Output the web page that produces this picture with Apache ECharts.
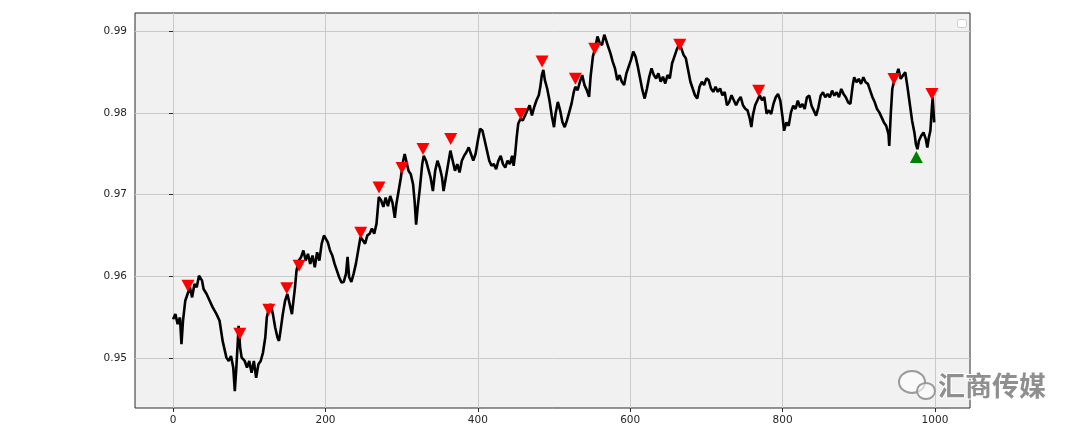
<!DOCTYPE html>
<html>
<head>
<meta charset="utf-8">
<script src="https://cdn.jsdelivr.net/npm/echarts@6/dist/echarts.min.js"></script>
<style>html,body{margin:0;padding:0;background:#fff;}#c{width:1080px;height:436px;}</style>
</head>
<body>
<div id="c"></div>
<script>
const xs = [0,3,6,9,11,13,16,19,22,25,28,31,34,36,38,40,44,48,52,57,61,65,70,73,76,79,81,83,85,86,88,90,94,97,100,103,106,109,112,115,118,121,123,126,128,131,134,137,139,141,144,147,150,153,156,158,160,162,165,168,171,174,177,180,183,186,189,192,195,198,200,203,206,209,212,215,218,221,224,227,229,231,234,237,240,243,246,249,252,255,258,261,264,267,270,273,276,279,282,285,288,291,293,296,299,302,304,306,309,312,315,317,319,321,324,327,329,332,335,338,341,344,347,350,353,355,358,361,364,367,370,373,376,379,382,385,388,391,394,397,400,403,406,409,412,415,418,421,424,427,430,433,436,439,442,445,447,449,451,453,456,459,462,465,468,471,474,477,480,482,484,486,488,491,494,497,500,502,505,508,511,514,517,520,523,526,528,531,534,537,540,543,546,548,551,554,557,560,563,566,568,571,574,577,580,583,586,589,592,595,598,601,604,607,610,613,616,619,622,625,628,631,634,637,640,643,646,649,652,655,658,661,664,667,670,673,676,679,682,685,688,691,694,697,700,703,706,709,712,715,718,721,724,727,730,733,736,739,742,745,748,751,754,757,759,761,764,767,770,773,776,779,782,785,788,791,794,797,800,802,805,808,811,814,817,820,823,826,829,832,835,838,841,844,847,850,853,856,859,862,865,868,871,874,877,880,883,886,889,892,894,897,900,903,906,909,912,915,918,921,924,927,930,933,936,939,940,942,944,947,950,952,955,958,961,964,967,970,973,975,977,979,982,985,988,990,992,994,996,997,999];
const ys = [0.95475,0.95537,0.95414,0.95496,0.95168,0.95455,0.95701,0.95783,0.95865,0.95742,0.95906,0.95865,0.96008,0.96029,0.95947,0.95844,0.95783,0.95701,0.95619,0.95537,0.95455,0.95209,0.95004,0.94963,0.95025,0.94881,0.94594,0.94881,0.95209,0.95393,0.95127,0.95004,0.94963,0.94881,0.94963,0.9482,0.94963,0.94758,0.94922,0.94963,0.95066,0.9525,0.95496,0.95619,0.9566,0.95537,0.95373,0.9525,0.95209,0.95332,0.95537,0.95701,0.95783,0.9566,0.95537,0.95701,0.95865,0.9607,0.96193,0.96234,0.96316,0.96193,0.96275,0.96152,0.96254,0.96111,0.96295,0.96193,0.96398,0.965,0.9652,0.96418,0.96316,0.96254,0.96152,0.9607,0.95988,0.95926,0.95931,0.96033,0.96237,0.95992,0.95931,0.96033,0.96155,0.96318,0.96482,0.96441,0.964,0.96502,0.96522,0.96584,0.96522,0.96645,0.96971,0.96931,0.9685,0.96963,0.9686,0.96984,0.96901,0.96716,0.96881,0.97045,0.9721,0.97416,0.97498,0.97416,0.97292,0.97251,0.97128,0.96922,0.96634,0.9684,0.97086,0.97374,0.97477,0.97416,0.97313,0.9721,0.97045,0.97292,0.97416,0.97333,0.9721,0.97045,0.9721,0.97374,0.97539,0.97416,0.97292,0.97374,0.97272,0.97416,0.97477,0.97519,0.9758,0.97498,0.97416,0.97498,0.97663,0.97807,0.97786,0.97663,0.97539,0.97416,0.97354,0.97374,0.97313,0.97416,0.97477,0.97374,0.97333,0.97416,0.97374,0.97477,0.97354,0.97498,0.97704,0.97868,0.9793,0.97909,0.97971,0.98033,0.98095,0.97971,0.98074,0.98156,0.98218,0.98321,0.98465,0.98527,0.98403,0.983,0.98156,0.97971,0.97827,0.97992,0.98136,0.98033,0.97889,0.97827,0.97909,0.98012,0.98115,0.98259,0.98321,0.9828,0.98383,0.98465,0.98342,0.9828,0.98198,0.98444,0.98691,0.98794,0.98938,0.98856,0.98835,0.98959,0.98979,0.98815,0.98733,0.9863,0.98547,0.98403,0.98465,0.98383,0.98342,0.98486,0.98568,0.9865,0.98753,0.98691,0.98568,0.98424,0.9828,0.98177,0.983,0.98444,0.98547,0.98465,0.98424,0.98486,0.98383,0.98444,0.98362,0.98465,0.98424,0.98609,0.98691,0.98774,0.98835,0.98794,0.98712,0.98671,0.98527,0.98383,0.983,0.98218,0.98177,0.98321,0.98383,0.98342,0.98424,0.98403,0.983,0.98259,0.98321,0.98259,0.983,0.98218,0.98259,0.98095,0.98136,0.98218,0.98156,0.98095,0.98156,0.98198,0.98095,0.98053,0.98033,0.9793,0.97827,0.97971,0.98095,0.98156,0.98218,0.98156,0.98198,0.97992,0.98033,0.97988,0.98111,0.98193,0.98234,0.98152,0.97947,0.97783,0.97885,0.97844,0.98008,0.9809,0.98049,0.98152,0.9807,0.98111,0.98049,0.98193,0.98213,0.9809,0.98029,0.97967,0.9807,0.98213,0.98254,0.98193,0.98234,0.98193,0.98275,0.98213,0.98254,0.98193,0.98295,0.98234,0.98193,0.98131,0.98111,0.98336,0.98439,0.98377,0.98418,0.98357,0.98439,0.98377,0.98357,0.98275,0.98193,0.98131,0.98049,0.98008,0.97947,0.97885,0.97844,0.97742,0.97598,0.97988,0.98295,0.98418,0.9848,0.98541,0.98418,0.98459,0.985,0.98316,0.98111,0.97906,0.97762,0.97619,0.97557,0.9766,0.97721,0.97762,0.9768,0.97578,0.977,0.97783,0.9807,0.98193,0.97885];

const sellX = [19.5,87.5,125.6,149.2,165.4,246.3,270.3,300.5,328,364.4,456.3,484.3,528,553.4,665,768.6,946.2,996];
const sellY = [0.95884,0.95295,0.95589,0.95855,0.96129,0.96533,0.97088,0.97326,0.97559,0.97681,0.97988,0.98632,0.9842,0.98788,0.98837,0.98273,0.98417,0.98233];
const buyX = [975.6];
const buyY = [0.97461];

const xTicks = [0,200,400,600,800,1000];
const yTicks = [0.95,0.96,0.97,0.98,0.99];

const chart = echarts.init(document.getElementById('c'), null, {renderer:'canvas'});
const font = 'DejaVu Sans';
chart.setOption({
  animation: false,
  backgroundColor: '#ffffff',
  grid: {left:135, right:110, top:13, bottom:28, show:true, backgroundColor:'#f1f1f1', borderColor:'#2b2b2b', borderWidth:1},
  xAxis: {
    type:'value', min:-50, max:1046,
    axisLine:{show:false},
    axisTick:{show:true, inside:false, length:4, lineStyle:{color:'#2b2b2b'}, customValues:xTicks},
    axisLabel:{customValues:xTicks, color:'#262626', fontFamily:font, fontSize:10.5, margin:7, formatter:v=>String(Math.round(v))},
    splitLine:{show:true, lineStyle:{color:'#c9c9c9', width:1}}
  },
  yAxis: {
    type:'value', min:0.94387, max:0.99225,
    axisLine:{show:false},
    axisTick:{show:true, inside:false, length:4, lineStyle:{color:'#2b2b2b'}, customValues:yTicks},
    axisLabel:{customValues:yTicks, color:'#262626', fontFamily:font, fontSize:10.5, margin:8, formatter:v=>v.toFixed(2)},
    splitLine:{show:true, lineStyle:{color:'#c9c9c9', width:1}}
  },
  series: [
    {type:'line', data: xs.map((x,i)=>[x, ys[i]]), showSymbol:false, symbol:'none',
     lineStyle:{color:'#000', width:2.6}, z:2},
    {type:'scatter', data: sellX.map((x,i)=>[x, sellY[i]]), symbol:'triangle', symbolRotate:180,
     symbolSize:[13,12], itemStyle:{color:'#ff0000', opacity:1}, z:3},
    {type:'scatter', data: buyX.map((x,i)=>[x, buyY[i]]), symbol:'triangle',
     symbolSize:[13,12], itemStyle:{color:'#008000', opacity:1}, z:3}
  ],
  graphic: [
    {type:'rect', left:957, top:19, shape:{width:9, height:8, r:2}, style:{fill:'#ffffff', stroke:'#cccccc', lineWidth:1}, z:10},
    {type:'ellipse', shape:{cx:912, cy:382, rx:13, ry:11}, style:{fill:'rgba(255,255,255,0.6)', stroke:'#9a9a9a', lineWidth:2}, z:10},
    {type:'ellipse', shape:{cx:926, cy:391, rx:9, ry:8}, style:{fill:'rgba(255,255,255,0.6)', stroke:'#9a9a9a', lineWidth:2}, z:11},
    {type:'text', left:937, top:371, style:{text:'汇商传媒', fill:'#8f8f8f', stroke:'#ffffff', lineWidth:2, font:'bold 27px "Noto Sans CJK SC"'}, z:12}
  ]
});
</script>
</body>
</html>
